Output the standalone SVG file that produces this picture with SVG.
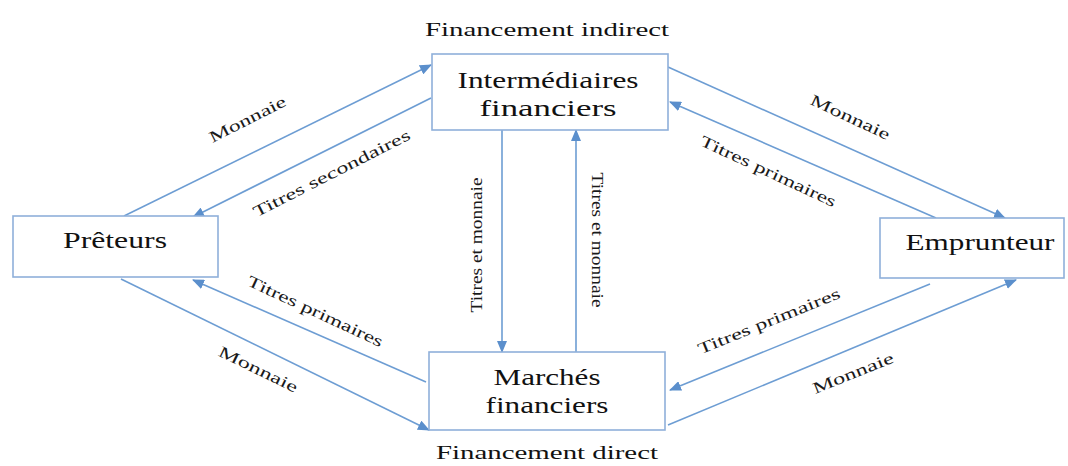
<svg xmlns="http://www.w3.org/2000/svg" width="1068" height="466" viewBox="0 0 1068 466">
  <style>
    .box { fill: #ffffff; stroke: #8fb0da; stroke-width: 1.6; }
    .node { font-family: "Liberation Serif", "Times New Roman", serif; font-size: 24px; fill: #111111; text-anchor: middle; }
    .title { font-family: "Liberation Serif", "Times New Roman", serif; font-size: 19px; fill: #111111; text-anchor: middle; }
    .lbl { font-family: "Liberation Serif", "Times New Roman", serif; font-size: 16px; fill: #1a1a1a; text-anchor: middle; }
    .flow { fill: none; stroke: #6d9dd3; stroke-width: 1.6; marker-end: url(#head); }
  </style>
  <defs>
    <marker id="head" markerWidth="12" markerHeight="10" refX="11" refY="5" orient="auto" markerUnits="userSpaceOnUse">
      <path d="M0,0 L12,5 L0,10 Z" fill="#5b8fcc"/>
    </marker>
  </defs>
  <rect width="1068" height="466" fill="#ffffff"/>

  <!-- section headings -->
  <text class="title" x="547" y="36" textLength="244" lengthAdjust="spacingAndGlyphs">Financement indirect</text>
  <text class="title" x="547" y="459" textLength="222" lengthAdjust="spacingAndGlyphs">Financement direct</text>

  <!-- connectors -->
  <g id="connectors">
    <line class="flow" x1="124" y1="216" x2="431" y2="65"/>
    <line class="flow" x1="431" y1="98" x2="193" y2="217"/>
    <line class="flow" x1="668" y1="67" x2="1005" y2="218"/>
    <line class="flow" x1="936" y1="218" x2="670" y2="102"/>
    <line class="flow" x1="426" y1="382" x2="193" y2="280"/>
    <line class="flow" x1="121" y1="279" x2="429" y2="430"/>
    <line class="flow" x1="930" y1="284" x2="670" y2="390"/>
    <line class="flow" x1="668" y1="425" x2="1016" y2="280"/>
    <line class="flow" x1="502" y1="130" x2="502" y2="352"/>
    <line class="flow" x1="576" y1="352" x2="576" y2="130"/>

    <text class="lbl" transform="translate(250,124) rotate(-27)" textLength="84" lengthAdjust="spacingAndGlyphs">Monnaie</text>
    <text class="lbl" transform="translate(334,178) rotate(-27)" textLength="174" lengthAdjust="spacingAndGlyphs">Titres secondaires</text>
    <text class="lbl" transform="translate(848,122) rotate(25)" textLength="86" lengthAdjust="spacingAndGlyphs">Monnaie</text>
    <text class="lbl" transform="translate(766,176) rotate(25)" textLength="148" lengthAdjust="spacingAndGlyphs">Titres primaires</text>
    <text class="lbl" transform="translate(313,316) rotate(25)" textLength="148" lengthAdjust="spacingAndGlyphs">Titres primaires</text>
    <text class="lbl" transform="translate(256,374) rotate(26)" textLength="86" lengthAdjust="spacingAndGlyphs">Monnaie</text>
    <text class="lbl" transform="translate(771,326) rotate(-22)" textLength="152" lengthAdjust="spacingAndGlyphs">Titres primaires</text>
    <text class="lbl" transform="translate(855,378) rotate(-22)" textLength="86" lengthAdjust="spacingAndGlyphs">Monnaie</text>
    <text class="lbl" transform="translate(482,245) rotate(-90)" textLength="135" lengthAdjust="spacingAndGlyphs">Titres et monnaie</text>
    <text class="lbl" transform="translate(592,240) rotate(90)" textLength="135" lengthAdjust="spacingAndGlyphs">Titres et monnaie</text>
  </g>

  <!-- nodes -->
  <g id="intermediaires">
    <rect class="box" x="432" y="54" width="236" height="76"/>
    <text class="node" x="548" y="88" textLength="181" lengthAdjust="spacingAndGlyphs">Intermédiaires</text>
    <text class="node" x="548" y="116" textLength="137" lengthAdjust="spacingAndGlyphs">financiers</text>
  </g>
  <g id="preteurs">
    <rect class="box" x="13" y="216" width="205" height="61"/>
    <text class="node" x="115" y="248" textLength="104" lengthAdjust="spacingAndGlyphs">Prêteurs</text>
  </g>
  <g id="emprunteur">
    <rect class="box" x="880" y="218" width="184" height="60"/>
    <text class="node" x="980" y="250" textLength="149" lengthAdjust="spacingAndGlyphs">Emprunteur</text>
  </g>
  <g id="marches">
    <rect class="box" x="429" y="352" width="236" height="78"/>
    <text class="node" x="547" y="385" textLength="107" lengthAdjust="spacingAndGlyphs">Marchés</text>
    <text class="node" x="547" y="413" textLength="123" lengthAdjust="spacingAndGlyphs">financiers</text>
  </g>
</svg>
